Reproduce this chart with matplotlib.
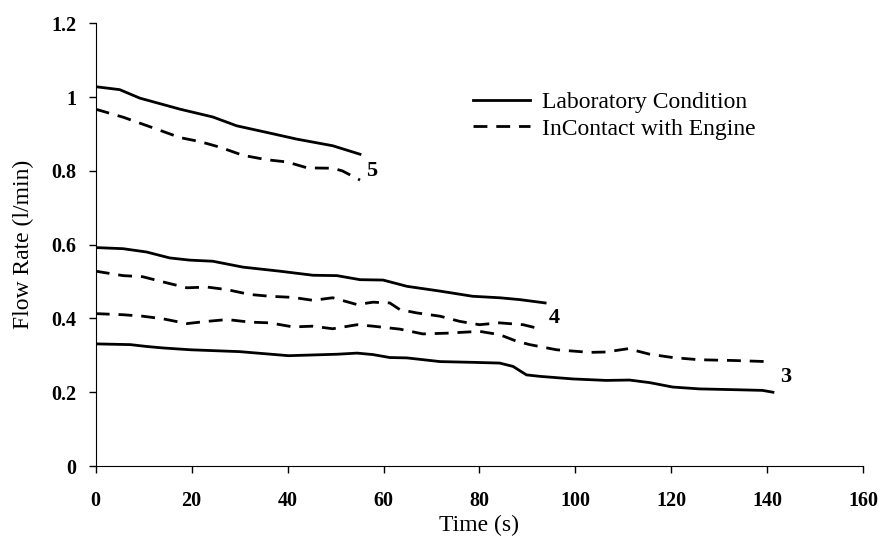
import matplotlib.pyplot as plt

# run 5 (top pair)
lab5_t = [0, 5.0, 9.2, 17.6, 24.4, 29.4, 35.7, 41.9, 49.4, 55.1]
lab5_q = [1.028, 1.02, 0.997, 0.967, 0.946, 0.922, 0.904, 0.886, 0.868, 0.845]
eng5_t = [0, 5.8, 12.7, 17.6, 21.8, 25.9, 30.7, 35.7, 39.9, 44.1, 49.4, 51.4, 55.1]
eng5_q = [0.967, 0.945, 0.913, 0.89, 0.879, 0.864, 0.842, 0.83, 0.824, 0.808, 0.807, 0.8, 0.775]

# run 4
lab4_t = [0, 5.7, 10.6, 15.4, 19.6, 24.4, 30.7, 38.4, 45.3, 50.3, 55.1, 59.9,
          64.9, 71.8, 78.6, 84.2, 88.4, 93.7]
lab4_q = [0.592, 0.589, 0.58, 0.564, 0.558, 0.555, 0.539, 0.528, 0.517, 0.516,
          0.505, 0.504, 0.487, 0.474, 0.46, 0.456, 0.451, 0.442]
eng4_t = [0, 5.7, 9.8, 14.0, 19.0, 23.2, 27.4, 32.1, 36.3, 41.1, 45.3, 49.4, 54.5,
          57.8, 61.3, 63.4, 66.9, 71.8, 75.9, 80.0, 84.2, 89.1, 93.2]
eng4_q = [0.528, 0.516, 0.513, 0.499, 0.483, 0.485, 0.478, 0.465, 0.46, 0.457,
          0.449, 0.456, 0.4375, 0.444, 0.442, 0.424, 0.415, 0.406, 0.392, 0.383,
          0.388, 0.383, 0.37]

# run 3
lab3_t = [0, 7.2, 10.6, 14.0, 19.8, 30.0, 40.2, 50.4, 54.5, 57.8, 61.3, 64.9,
          71.8, 78.6, 84.2, 87.0, 89.8, 92.6, 99.5, 106.4, 111.3, 115.5, 120.3,
          125.9, 132.8, 139.0, 141.2]
lab3_q = [0.331, 0.329, 0.324, 0.32, 0.315, 0.31, 0.299, 0.303, 0.306, 0.302,
          0.294, 0.293, 0.283, 0.281, 0.279, 0.27, 0.247, 0.243, 0.236, 0.232,
          0.233, 0.226, 0.214, 0.209, 0.207, 0.205, 0.2]
eng3_t = [0, 5.7, 9.8, 14.0, 19.0, 23.2, 27.4, 32.1, 36.3, 41.1, 45.3, 49.4, 54.5,
          57.8, 63.4, 68.2, 73.2, 80.0, 84.2, 87.8, 90.5, 96.1, 103.0, 106.4, 111.0,
          115.5, 120.3, 125.8, 133.0, 140.0]
eng3_q = [0.413, 0.41, 0.406, 0.399, 0.386, 0.392, 0.397, 0.39, 0.388, 0.377,
          0.379, 0.372, 0.383, 0.379, 0.371, 0.358, 0.36, 0.365, 0.356, 0.338,
          0.329, 0.315, 0.308, 0.309, 0.318, 0.303, 0.294, 0.288, 0.286, 0.283]

run_labels = ["5", "4", "3"]
label_pos = [(57.6, 0.80), (95.5, 0.40), (143.8, 0.24)]

serif = ['Liberation Serif', 'DejaVu Serif']

fig = plt.figure(figsize=(8.8, 5.38), dpi=100)
ax = fig.add_axes([0.1088, 0.1338, 0.872, 0.823])

dash = (0, (5.0, 3.2))
lw = 2.0
ax.plot(lab5_t, lab5_q, color='black', lw=lw, label='Laboratory Condition')
ax.plot(eng5_t, eng5_q, color='black', lw=lw, linestyle=dash, label='InContact with Engine')
ax.plot(lab4_t, lab4_q, color='black', lw=lw)
ax.plot(eng4_t, eng4_q, color='black', lw=lw, linestyle=dash)
ax.plot(lab3_t, lab3_q, color='black', lw=lw)
ax.plot(eng3_t, eng3_q, color='black', lw=lw, linestyle=dash)

# numero de essai a cote des courbes
for txt, (x, y) in zip(run_labels, label_pos):
    ax.text(x, y, txt, fontsize=16, fontweight='bold', family=serif,
            ha='center', va='center')

ax.set_xlim(0, 160)
ax.set_ylim(0, 1.2)
ax.set_xticks(range(0, 161, 20))
ax.set_yticks([0, 0.2, 0.4, 0.6, 0.8, 1.0, 1.2])
ax.set_yticklabels(['0', '0.2', '0.4', '0.6', '0.8', '1', '1.2'])
for lab in ax.get_xticklabels() + ax.get_yticklabels():
    lab.set_family(serif)
    lab.set_fontweight('bold')
    lab.set_fontsize(14.5)
ax.tick_params(direction='out', length=5, width=1)
ax.tick_params(axis='x', pad=13)
ax.tick_params(axis='y', pad=9)

ax.spines['top'].set_visible(False)
ax.spines['right'].set_visible(False)

ax.set_xlabel("Time (s)", fontsize=17, family=serif, labelpad=3)
ax.set_ylabel("Flow Rate (l/min)", fontsize=17, family=serif, labelpad=12)

leg = ax.legend(loc='upper left', bbox_to_anchor=(0.492, 0.845), frameon=False,
                handlelength=2.4, handletextpad=0.5, borderpad=0, borderaxespad=0,
                labelspacing=0.2, prop={'family': serif, 'size': 17})

fig.savefig("out.png", dpi=100)
